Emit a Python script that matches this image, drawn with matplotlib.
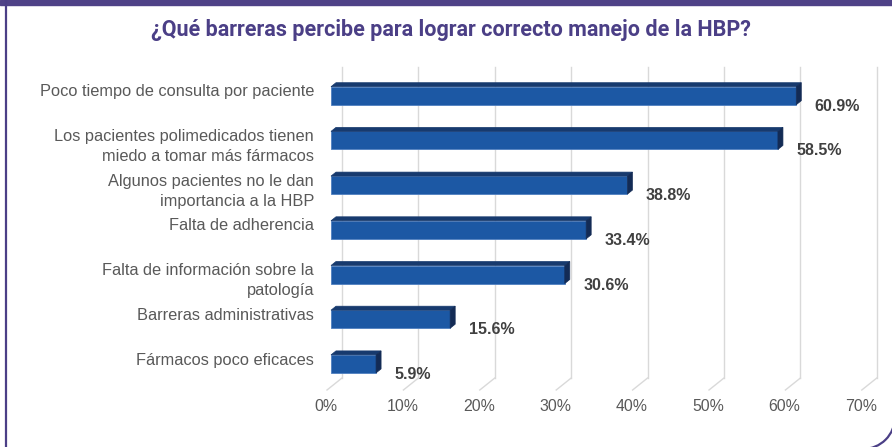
import matplotlib
matplotlib.use("Agg")
import matplotlib.pyplot as plt
from matplotlib.patches import Polygon, Rectangle, Arc

# data
categories = [
    "Poco tiempo de consulta por paciente",
    "Los pacientes polimedicados tienen\nmiedo a tomar más fármacos",
    "Algunos pacientes no le dan\nimportancia a la HBP",
    "Falta de adherencia",
    "Falta de información sobre la\npatología",
    "Barreras administrativas",
    "Fármacos poco eficaces",
]
values = [60.9, 58.5, 38.8, 33.4, 30.6, 15.6, 5.9]
tick_vals = [0, 10, 20, 30, 40, 50, 60, 70]
tick_labels = ["0%", "10%", "20%", "30%", "40%", "50%", "60%", "70%"]
title = "¿Qué barreras percibe para lograr correcto manejo de la HBP?"

PURPLE = "#4b3f86"
FRONT = "#1c58a4"
TOP = "#173a6e"
SIDE = "#132b55"
GRID = "#d9d9d9"
TXT = "#595959"

plt.rcParams["font.family"] = ["Liberation Sans", "DejaVu Sans"]

fig = plt.figure(figsize=(8.92, 4.47), dpi=100)
W, H = 892, 447

# background axes in pixel units, for the card frame
bg = fig.add_axes([0, 0, 1, 1])
bg.set_xlim(0, W)
bg.set_ylim(H, 0)
bg.axis("off")
bg.plot([6, 6], [0, H], color=PURPLE, lw=1.6)
bg.add_patch(Arc((863, 417), 64, 64, theta1=0, theta2=90, color=PURPLE, lw=1.6))
bg.add_patch(Rectangle((0, 0), W, 4.5, color="#4f4287"))
bg.text(451, 36, title, ha="center", va="baseline", fontsize=15.5,
        fontweight="bold", color=PURPLE, family=["Roboto", "DejaVu Sans"])

# px per unit
sx = 7.64
sy = 44.7
x0px = 331
y0px = 95.7
ax_l, ax_r, ax_t, ax_b = 300, 892, 60, 420
ax = fig.add_axes([ax_l / W, (H - ax_b) / H, (ax_r - ax_l) / W, (ax_b - ax_t) / H])
ax.set_xlim((ax_l - x0px) / sx, (ax_r - x0px) / sx)
ax.set_ylim((ax_b - y0px) / sy, (ax_t - y0px) / sy)
ax.axis("off")

# back-wall gridlines + floor diagonals
g_dx = 11 / sx
g_top = (66.7 - y0px) / sy
g_bot = (378 - y0px) / sy
g_floor = (390 - y0px) / sy
g_fdx = 15 / sx
for t in tick_vals:
    ax.plot([t + g_dx, t + g_dx], [g_top, g_bot], color=GRID, lw=1, zorder=1)
    ax.plot([t + g_dx, t + g_dx - g_fdx], [g_bot, g_floor], color=GRID, lw=1, zorder=1)

for t, lab in zip(tick_vals, tick_labels):
    ax.text(t - 0.65, (406.5 - y0px) / sy, lab, ha="center", va="center",
            fontsize=11.4, color=TXT, clip_on=False)

# bars (front face via barh, top and side faces as polygons)
h = 18 / sy
dx = 5 / sx
dy = 4 / sy
ypos = list(range(len(values)))
ax.barh(ypos, values, height=h, color=FRONT, edgecolor="#4f7fc0", lw=0.6, zorder=3)
for y, v in zip(ypos, values):
    top = y - h / 2
    bot = y + h / 2
    ax.add_patch(Polygon([(0, top), (v, top), (v + dx, top - dy), (dx, top - dy)],
                         closed=True, fc=TOP, ec=TOP, lw=0.5, zorder=3))
    ax.add_patch(Polygon([(v, top), (v + dx, top - dy), (v + dx, bot - dy), (v, bot)],
                         closed=True, fc=SIDE, ec=SIDE, lw=0.5, zorder=3))
    ax.text(v + 2.4, y + 15 / sy, f"{v:.1f}%", ha="left", va="baseline",
            fontsize=11.5, fontweight="bold", color="#404040", zorder=4)

# category labels, one text per line
lab_x = (314 - x0px) / sx
for y, cat in zip(ypos, categories):
    for k, line in enumerate(cat.split("\n")):
        ax.text(lab_x, y + (0.6 + 20.3 * k) / sy, line, ha="right", va="baseline",
                fontsize=11.8, color=TXT, clip_on=False)

fig.savefig("out.png", dpi=100)
